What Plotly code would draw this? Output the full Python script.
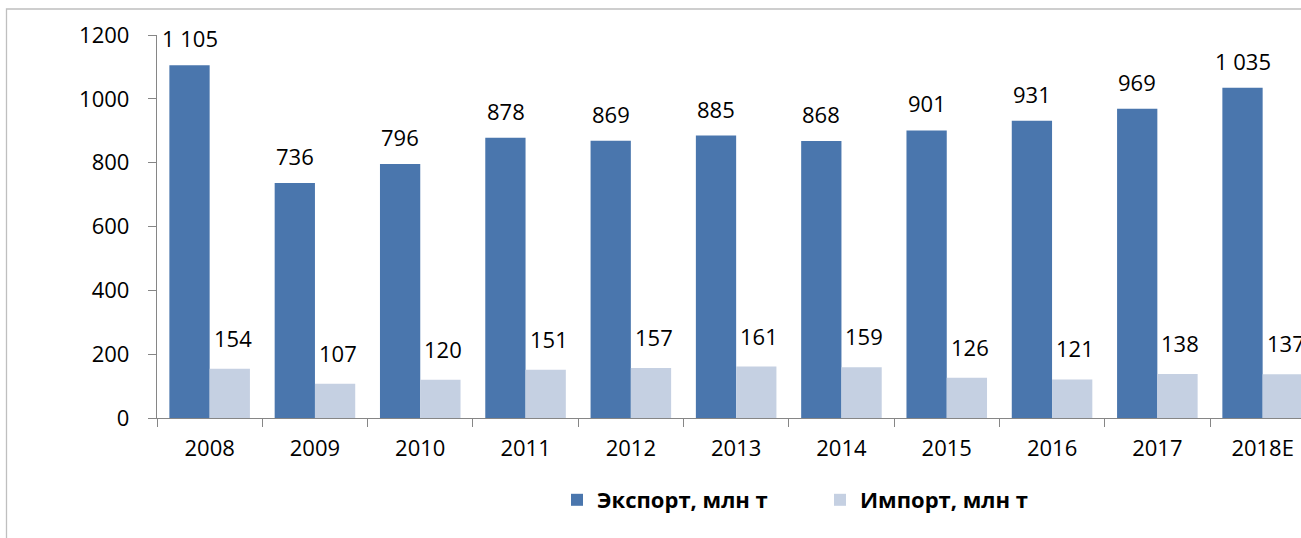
import plotly.graph_objects as go

years = ["2008", "2009", "2010", "2011", "2012", "2013", "2014", "2015", "2016", "2017", "2018E"]
export_vals = [1105, 736, 796, 878, 869, 885, 868, 901, 931, 969, 1035]
import_vals = [154, 107, 120, 151, 157, 161, 159, 126, 121, 138, 137]
export_name = "Экспорт, млн т"
import_name = "Импорт, млн т"

EXPORT_COLOR = "#4a76ad"
IMPORT_COLOR = "#c5d0e2"
FONT = "Open Sans"

def fmt(v):
    return f"{v:,}".replace(",", " ")

fig = go.Figure()
fig.add_trace(go.Bar(x=years, y=export_vals, name=export_name,
                     marker=dict(color=EXPORT_COLOR, line=dict(width=0))))
fig.add_trace(go.Bar(x=years, y=import_vals, name=import_name,
                     marker=dict(color=IMPORT_COLOR, line=dict(width=0))))

annotations = []
for i, v in enumerate(export_vals):
    annotations.append(dict(x=i, y=v, xref="x", yref="y", text=fmt(v), showarrow=False,
                            xshift=-20, yshift=27, yanchor="middle", xanchor="center",
                            font=dict(family=FONT, size=22, color="#000000")))
for i, v in enumerate(import_vals):
    annotations.append(dict(x=i, y=v, xref="x", yref="y", text=fmt(v), showarrow=False,
                            xshift=23, yshift=31, yanchor="middle", xanchor="center",
                            font=dict(family=FONT, size=22, color="#000000")))

W, H = 1301, 538
ML, MT, MB = 157, 35, 120
pw = W - ML
ph = H - MT - MB
CAT_PX = 105.3

fig.update_layout(
    width=W, height=H,
    margin=dict(l=ML, r=0, t=MT, b=MB, pad=0),
    paper_bgcolor="white", plot_bgcolor="white",
    barmode="group", bargap=0.235, bargroupgap=0,
    font=dict(family=FONT, size=22, color="#000000"),
    showlegend=True,
    legend=dict(orientation="h", x=(820 - ML) / pw, xanchor="center",
                y=-(500 - (MT + ph)) / ph, yanchor="middle",
                font=dict(family=FONT, size=22, color="#000000", weight="bold"),
                entrywidth=218, itemsizing="constant", traceorder="normal",
                bgcolor="rgba(0,0,0,0)"),
    annotations=annotations,
    shapes=[dict(type="rect", xref="paper", yref="paper",
                 x0=(6.5 - ML) / pw, x1=1.2, y0=-0.5, y1=(MT + ph - 9) / ph,
                 line=dict(color="#bfbfbf", width=1.3), fillcolor="rgba(0,0,0,0)", layer="below")],
)

fig.update_xaxes(type="category", range=[-0.5, (W - ML) / CAT_PX - 0.5],
                 showline=True, linecolor="#868686", linewidth=1.3,
                 ticks="outside", tickson="boundaries", ticklen=8, tickcolor="#868686", tickwidth=1.3,
                 showgrid=False, ticklabelstandoff=10,
                 tickfont=dict(family=FONT, size=22, color="#000000"))
fig.update_yaxes(range=[0, 1200], tickvals=[0, 200, 400, 600, 800, 1000, 1200],
                 showline=True, linecolor="#868686", linewidth=1.3,
                 ticks="outside", ticklen=8, tickcolor="#868686", tickwidth=1.3,
                 showgrid=False, zeroline=False, ticklabelstandoff=14,
                 tickfont=dict(family=FONT, size=22, color="#000000"))

fig.write_html("out.html", config={"displayModeBar": False},
               post_script="document.body.style.margin='0';document.body.style.overflow='hidden';")
